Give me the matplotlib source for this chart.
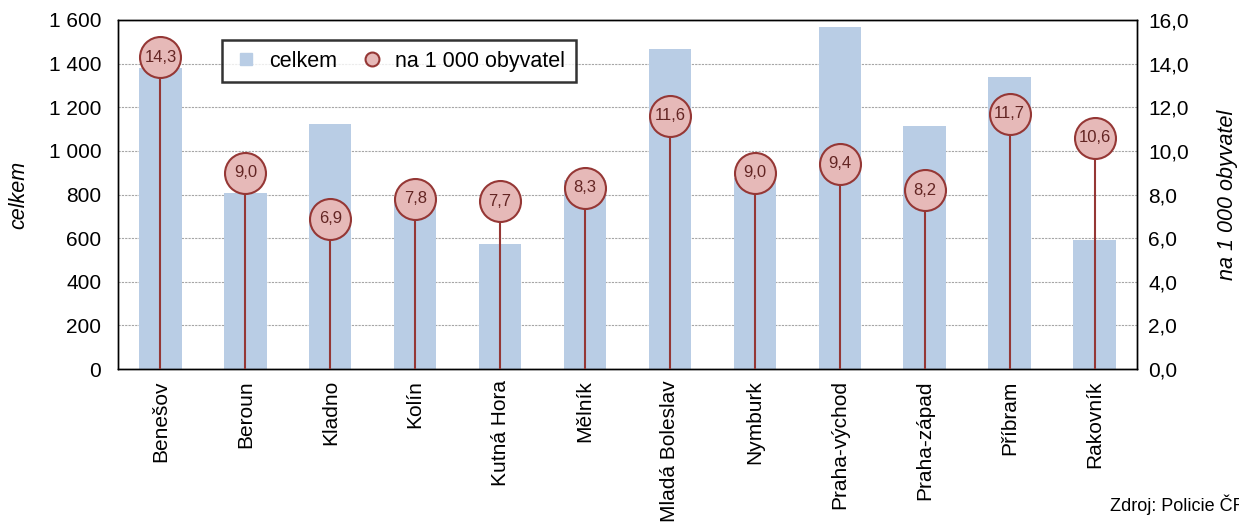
import numpy as np
import matplotlib.pyplot as plt
from matplotlib.lines import Line2D

plt.rcParams['font.family'] = ['Liberation Sans', 'DejaVu Sans']

okresy = ['Benešov', 'Beroun', 'Kladno', 'Kolín', 'Kutná Hora', 'Mělník',
          'Mladá Boleslav', 'Nymburk', 'Praha-východ', 'Praha-západ',
          'Příbram', 'Rakovník']
celkem = [1380, 805, 1122, 785, 572, 868, 1468, 878, 1570, 1115, 1338, 590]
na_1000 = [14.3, 9.0, 6.9, 7.8, 7.7, 8.3, 11.6, 9.0, 9.4, 8.2, 11.7, 10.6]

bar_color = '#B9CDE5'
stem_color = '#953735'
marker_face = '#E6B9B8'

fig = plt.figure(figsize=(12.39, 5.22), dpi=100)
ax = fig.add_axes([0.0952, 0.293, 0.8225, 0.6687])
ax2 = ax.twinx()

x = np.arange(len(okresy))
ax.bar(x, celkem, width=0.5, color=bar_color, zorder=2)
ax.set_ylim(0, 1600)
ax.set_yticks(np.arange(0, 1601, 200))
ax.set_yticklabels([f'{v:,}'.replace(',', ' ') for v in range(0, 1601, 200)])
ax.set_xlim(-0.5, len(okresy) - 0.5)
ax.set_xticks(x)
ax.set_xticklabels(okresy, rotation=90)
ax.grid(axis='y', color='#a6a6a6', linestyle=(0, (2, 1)), linewidth=0.8, zorder=1)
ax.set_axisbelow(True)
ax.tick_params(axis='y', length=0, labelsize=15, pad=12)
ax.tick_params(axis='x', length=0, labelsize=15, pad=8)
ax.set_ylabel('celkem', fontsize=15.5, style='italic', labelpad=14)

ax2.set_ylim(0, 16)
ax2.set_yticks(np.arange(0, 16.1, 2))
ax2.set_yticklabels([f'{v:.1f}'.replace('.', ',') for v in np.arange(0, 16.1, 2)])
ax2.tick_params(axis='y', length=0, labelsize=15, pad=8)
ax2.set_ylabel('na 1 000 obyvatel', fontsize=15.5, style='italic', labelpad=20)

ax2.vlines(x, 0, na_1000, color=stem_color, linewidth=1.5, zorder=3)
ax2.plot(x, na_1000, 'o', markersize=29.5, markerfacecolor=marker_face,
         markeredgecolor=stem_color, markeredgewidth=1.5, linestyle='none', zorder=4)
for xi, v in zip(x, na_1000):
    ax2.text(xi, v, f'{v:.1f}'.replace('.', ','), ha='center', va='center',
             fontsize=12, color='#632523', zorder=5)

for a in (ax, ax2):
    for s in a.spines.values():
        s.set_linewidth(1.0)
        s.set_color('black')

handles = [
    Line2D([], [], marker='s', color=bar_color, linestyle='none', markersize=9),
    Line2D([], [], marker='o', markerfacecolor=marker_face, markeredgecolor=stem_color,
           markeredgewidth=1.5, linestyle='none', markersize=10),
]
leg = ax2.legend(handles, ['celkem', 'na 1 000 obyvatel'], ncol=2, loc='upper left',
                 bbox_to_anchor=(0.102, 0.943), fontsize=15.5, frameon=True,
                 fancybox=False, edgecolor='black', handletextpad=0.5,
                 columnspacing=1.0, borderpad=0.5, handlelength=1.2,
                 borderaxespad=0)
leg.get_frame().set_linewidth(1.8)
leg.set_zorder(10)

fig.text(1110 / 1239, 1 - 505 / 522, 'Zdroj: Policie ČR', fontsize=13, va='center', ha='left')

fig.savefig('out.png', dpi=100)
